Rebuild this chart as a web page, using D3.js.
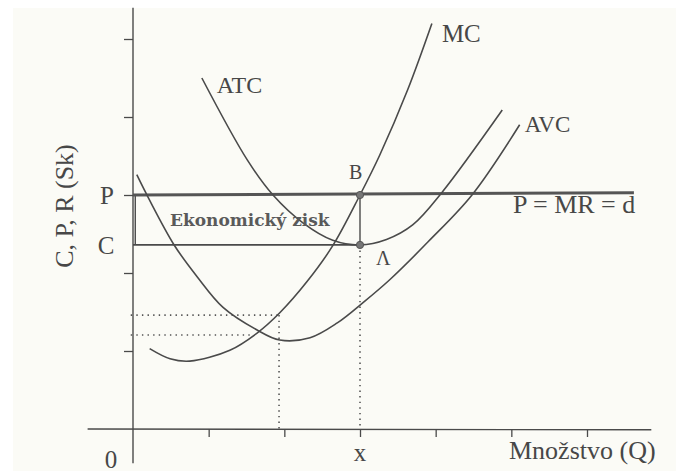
<!DOCTYPE html>
<html>
<head>
<meta charset="utf-8">
<script src="https://cdn.jsdelivr.net/npm/d3@7"></script>
<style>
  html, body { margin: 0; padding: 0; background: #ffffff; }
  svg { display: block; }
</style>
</head>
<body>
<svg id="chart" width="682" height="473"></svg>
<script>
// ---- data ----
const xTicks = [1, 2, 3, 4, 5, 6];
const yTicks = [1, 2, 3, 4, 5];
const priceLevel = 3.0;     // P
const costLevel = 2.36;     // C
const qStar = 3.0;          // x
const dotLevelUpper = 1.46;
const dotQUpper = 1.93;
const dotLevelLower = 1.205;
const dotQLower = 1.58;
const mcCurve = [[0.22,1.03],[0.49,0.90],[0.75,0.87],[1.28,1.01],[1.64,1.23],[1.94,1.49],[2.30,1.89],[2.64,2.35],[3.0,3.0],[3.26,3.51],[3.63,4.35],[3.95,5.2]];
const atcCurve = [[0.91,4.5],[1.51,3.45],[1.85,3.0],[2.25,2.64],[2.64,2.42],[3.0,2.36],[3.35,2.43],[3.7,2.62],[4.08,3.03],[4.88,4.09]];
const avcCurve = [[0.05,3.26],[0.2,2.97],[0.55,2.35],[0.85,1.95],[1.19,1.56],[1.64,1.27],[1.94,1.14],[2.34,1.17],[2.7,1.36],[3.04,1.62],[3.4,1.92],[3.9,2.4],[4.48,3.0],[5.11,3.9]];
const curveLabels = ["MC", "ATC", "AVC"];
const demandLabel = "P = MR = d";
const profitLabel = "Ekonomický zisk";
const xTitle = "Množstvo (Q)";
const yTitle = "C, P, R (Sk)";

// ---- drawing ----
const svg = d3.select("#chart");
const ink = "#4a4a4a";

// scanned paper background
svg.append("rect").attr("x", 13).attr("y", 8).attr("width", 663).attr("height", 463).attr("fill", "#fbfbf6");

const x = d3.scaleLinear().domain([0, 6]).range([133, 587]);
const y = d3.scaleLinear().domain([0, 5]).range([429, 39]);

const g = svg.append("g");

// axes lines
g.append("line").attr("x1", x(-0.6)).attr("x2", x(6.85)).attr("y1", y(0)).attr("y2", y(-0.01))
  .attr("stroke", ink).attr("stroke-width", 1.4);
g.append("line").attr("x1", x(0)).attr("x2", x(0)).attr("y1", y(-0.44)).attr("y2", y(5.4))
  .attr("stroke", ink).attr("stroke-width", 1.4);

// ticks via d3 axes
const xAxis = g.append("g").attr("transform", `translate(0,${y(0)})`)
  .call(d3.axisBottom(x).tickValues(xTicks).tickSize(8).tickFormat(""));
const yAxis = g.append("g").attr("transform", `translate(${x(0)},0)`)
  .call(d3.axisLeft(y).tickValues(yTicks).tickSize(9).tickFormat(""));
[xAxis, yAxis].forEach(a => {
  a.select(".domain").remove();
  a.selectAll(".tick line").attr("stroke", ink).attr("stroke-width", 1.3);
});

// dotted guide lines
const dot = (x1, y1, x2, y2) => g.append("line")
  .attr("x1", x1).attr("y1", y1).attr("x2", x2).attr("y2", y2)
  .attr("stroke", "#555").attr("stroke-width", 1.6).attr("stroke-dasharray", "1.4,4.2");
dot(x(-0.03), y(dotLevelUpper), x(dotQUpper), y(dotLevelUpper));
dot(x(dotQUpper), y(dotLevelUpper), x(dotQUpper), y(0));
dot(x(-0.03), y(dotLevelLower), x(dotQLower), y(dotLevelLower));
dot(x(qStar), y(costLevel), x(qStar), y(0));

// profit box
g.append("line").attr("x1", x(0.03)).attr("x2", x(0.03)).attr("y1", y(priceLevel)).attr("y2", y(costLevel))
  .attr("stroke", ink).attr("stroke-width", 1.4);
g.append("line").attr("x1", x(0)).attr("x2", x(qStar)).attr("y1", y(costLevel)).attr("y2", y(costLevel))
  .attr("stroke", ink).attr("stroke-width", 1.8);
g.append("line").attr("x1", x(qStar)).attr("x2", x(qStar)).attr("y1", y(priceLevel)).attr("y2", y(costLevel))
  .attr("stroke", ink).attr("stroke-width", 1.4);
// price line P = MR = d
g.append("line").attr("x1", x(0)).attr("x2", x(6.62)).attr("y1", y(priceLevel)).attr("y2", y(priceLevel + 0.03))
  .attr("stroke", "#555").attr("stroke-width", 3);

// curves
const line = d3.line().x(d => x(d[0])).y(d => y(d[1])).curve(d3.curveCatmullRom.alpha(0.5));
[mcCurve, atcCurve, avcCurve].forEach(c => {
  g.append("path").attr("d", line(c)).attr("fill", "none").attr("stroke", ink).attr("stroke-width", 1.6);
});

// points B and A
[[qStar, priceLevel], [qStar, costLevel]].forEach(p => {
  g.append("circle").attr("cx", x(p[0])).attr("cy", y(p[1])).attr("r", 3.6)
    .attr("fill", "#777").attr("stroke", "#555").attr("stroke-width", 1);
});

// labels
const txt = (s, px, py, size, anchor, family, weight) => g.append("text")
  .attr("x", px).attr("y", py)
  .style("font-size", size + "px")
  .style("font-family", family || "'Liberation Serif', serif")
  .style("font-weight", weight || "normal")
  .style("fill", "#474747")
  .attr("text-anchor", anchor || "start").text(s);

const mcEnd = mcCurve[mcCurve.length - 1];
txt(curveLabels[0], x(mcEnd[0]) + 10, y(mcEnd[1]) + 19, 25);
const atcStart = atcCurve[0];
txt(curveLabels[1], x(atcStart[0]) + 15, y(atcStart[1]) + 15, 24);
const avcEnd = avcCurve[avcCurve.length - 1];
txt(curveLabels[2], x(avcEnd[0]) + 5, y(avcEnd[1]) + 7, 23);
txt(demandLabel, 513, y(priceLevel) + 18, 26);
txt("B", 349, y(priceLevel) - 16, 20);
txt("Λ", 376, y(costLevel) + 20, 20);
txt("P", 107, y(priceLevel) + 9, 25, "middle");
txt("C", 106, y(costLevel) + 9, 25, "middle");
txt("0", 111, 468, 25, "middle");
txt("x", x(qStar), 461, 25, "middle");
txt(xTitle, 509, 459, 26);
txt(profitLabel, 170, y(priceLevel) + 31, 17, "start", "'DejaVu Serif', serif", "bold").style("fill", "#5a5a5a");
txt(yTitle, 0, 0, 26, "middle").attr("transform", "translate(73,206) rotate(-90)");
</script>
</body>
</html>
